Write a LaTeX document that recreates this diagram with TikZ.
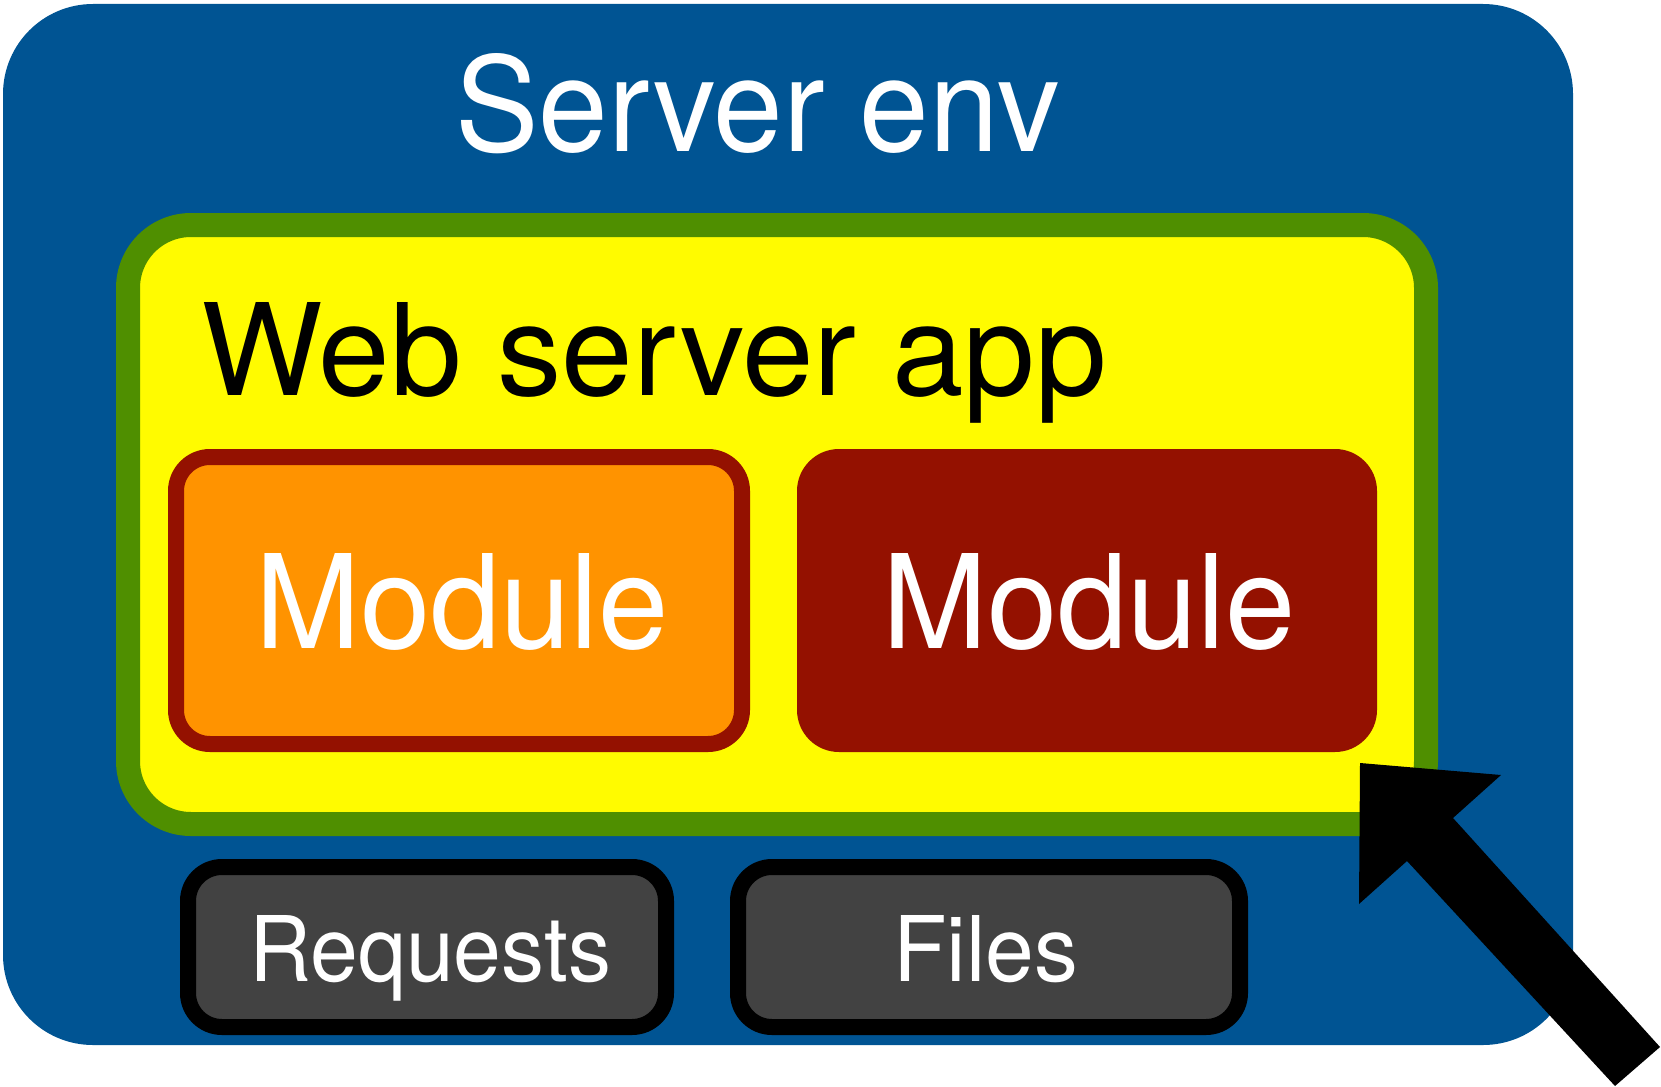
\documentclass[tikz,border=0pt]{standalone}
\usepackage{fontspec}
\setmainfont{TeX Gyre Heros}
\usepackage{graphicx}
\definecolor{ocean}{HTML}{005493}
\definecolor{fern}{HTML}{4F8F00}
\definecolor{lemon}{HTML}{FFFB00}
\definecolor{tangerine}{HTML}{FF9300}
\definecolor{cayenne}{HTML}{941100}
\definecolor{tungsten}{HTML}{424242}
\tikzset{
  box/.style={rectangle, inner sep=0pt, outer sep=0pt},
  lbl/.style={inner sep=0pt, outer sep=0pt, anchor=base west},
}
\begin{document}
\begin{tikzpicture}[x=1pt,y=-1pt]
\useasboundingbox (0,0) rectangle (1661,1086);
\clip (0,0) rectangle (1661,1086);
% outer environment
\node[box, fill=ocean, rounded corners=90pt, minimum width=1570pt, minimum height=1041pt] (env) at (788,524.5) {};
\node[lbl, text=white] (envt) at (455,151.5) {\resizebox{604pt}{98pt}{Server env}};
% web server app
\node[box, fill=lemon, draw=fern, line width=24pt, rounded corners=63pt, minimum width=1298pt, minimum height=599pt] (app) at (777,524.5) {};
\node[lbl, text=black] (appt) at (201,395) {\resizebox{906pt}{93pt}{Web server app}};
% modules
\node[box, fill=tangerine, draw=cayenne, line width=16pt, rounded corners=34pt, minimum width=566pt, minimum height=287pt] (mod1) at (459,600.5) {};
\node[lbl, text=white] (mod1t) at (255,648) {\resizebox{414pt}{95pt}{Module}};
\node[box, fill=cayenne, rounded corners=42pt, minimum width=580pt, minimum height=303pt] (mod2) at (1087,600.5) {};
\node[lbl, text=white] (mod2t) at (882,648) {\resizebox{414pt}{95pt}{Module}};
% resources
\node[box, fill=tungsten, draw=black, line width=16pt, rounded corners=34pt, minimum width=478pt, minimum height=160pt] (req) at (427,947) {};
\node[lbl, text=white] (reqt) at (249,981) {\resizebox{362pt}{66pt}{Requests}};
\node[box, fill=tungsten, draw=black, line width=16pt, rounded corners=34pt, minimum width=502pt, minimum height=160pt] (files) at (989,947) {};
\node[lbl, text=white] (filest) at (893,981) {\resizebox{185pt}{66pt}{Files}};
% big arrow
\coordinate (tip) at (1360,763);
\coordinate (c1) at (1501,775);
\coordinate (n1) at (1453,818);
\coordinate (t1) at (1660,1047);
\coordinate (t2) at (1615,1086);
\coordinate (n2) at (1407,861);
\coordinate (c2) at (1359,904);
\fill[black] (tip) -- (c1) -- (n1) -- (t1) -- (t2) -- (n2) -- (c2) -- cycle;
\end{tikzpicture}
\end{document}
